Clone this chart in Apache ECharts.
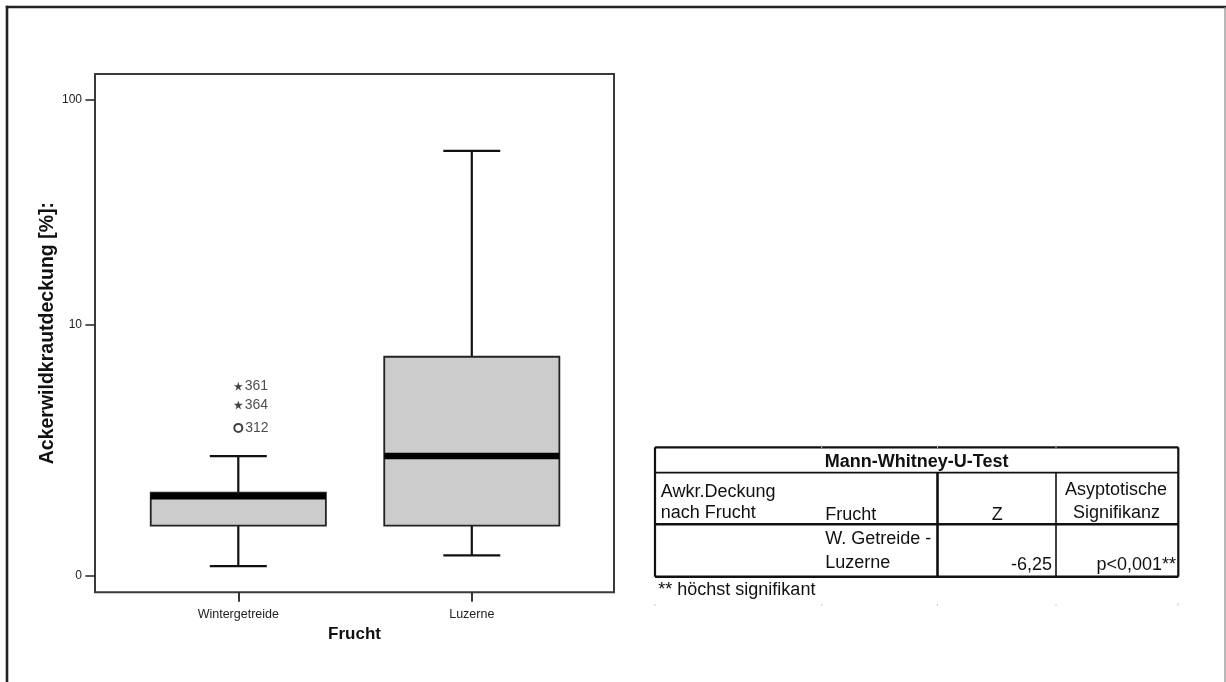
<!DOCTYPE html>
<html>
<head>
<meta charset="utf-8">
<script src="https://cdn.jsdelivr.net/npm/echarts@6/dist/echarts.min.js"></script>
<style>
html,body{margin:0;padding:0;background:#fff;}
#chart{width:1226px;height:682px;}
</style>
</head>
<body>
<div id="chart"></div>
<script>
// ---- data ----
const categories = ['Wintergetreide', 'Luzerne'];
const whiskerLow = [0.09, 0.2];
const quartile1 = [0.58, 0.58];
const medians = [1.08, 2.05];
const quartile3 = [1.15, 7];
const whiskerHigh = [2.05, 60];
const outlierCase = ['361', '364', '312'];
const outlierCategory = [0, 0, 0];
const outlierValue = [5, 4, 3];
const outlierKind = ['extreme', 'extreme', 'outlier'];
const yTickValues = [0, 10, 100];

// table texts
const tableTitle = 'Mann-Whitney-U-Test';
const tableZ = '-6,25';
const tableP = 'p<0,001**';

// ---- scale transform: log10(v + 0.9) ----
const OFFSET = 0.9;
const tf = v => Math.log10(v + OFFSET);
const itf = t => Math.pow(10, t) - OFFSET;

const FONT = "'Liberation Sans', Arial, sans-serif";
const BOX_W = 0.75;   // box width in category units
const CAP_W = 0.244;  // whisker cap width in category units

const boxData = categories.map((c, i) => [i, tf(whiskerLow[i]), tf(quartile1[i]), tf(medians[i]), tf(quartile3[i]), tf(whiskerHigh[i])]);
const starPath = 'path://M50,0 L61,35 L98,35 L68,57 L79,91 L50,70 L21,91 L32,57 L2,35 L39,35 Z';
const outlierData = outlierValue.map((v, i) => ({
  value: [outlierCategory[i], tf(v)],
  name: outlierCase[i],
  symbol: outlierKind[i] === 'extreme' ? starPath : 'circle',
  symbolSize: outlierKind[i] === 'extreme' ? 9 : 8,
  itemStyle: outlierKind[i] === 'extreme'
    ? { color: '#111', borderWidth: 0 }
    : { color: '#fff', borderColor: '#111', borderWidth: 2 }
}));

const chart = echarts.init(document.getElementById('chart'), null, { renderer: 'canvas' });

// table graphic
const TL = 655, TR = 1178.3, TT = 447.3, TB = 576.7;
const rowTitle = 472.7, rowHead = 524.3, colZ = 937.5, colP = 1056;
function hline(x1, x2, y, w, c) { return { type: 'line', shape: { x1, y1: y, x2, y2: y }, style: { stroke: c || '#111', lineWidth: w } }; }
function vline(x, y1, y2, w, c) { return { type: 'line', shape: { x1: x, y1, x2: x, y2 }, style: { stroke: c || '#111', lineWidth: w } }; }
function txt(x, y, s, align, opt) {
  return { type: 'text', x, y, style: Object.assign({ text: s, font: '18px ' + FONT, fill: '#111', align: align || 'left', verticalAlign: 'middle' }, opt || {}) };
}
const tableGraphic = [
  hline(TL, TR, TT, 2.2), hline(TL, TR, rowTitle, 1.8), hline(TL, TR, rowHead, 2.6), hline(TL, TR, TB, 2.6),
  vline(TL, TT, TB, 2.2), vline(TR, TT, TB, 2.2), vline(colZ, rowTitle, TB, 2.6), vline(colP, rowTitle, TB, 1.6),
  txt((TL + TR) / 2, 462, tableTitle, 'center', { font: 'bold 18px ' + FONT }),
  txt(660.7, 492, 'Awkr.Deckung'), txt(660.7, 513, 'nach Frucht'),
  txt(825.3, 515, 'Frucht'), txt(997.3, 515, 'Z', 'center'),
  txt(1116, 490, 'Asyptotische', 'center'), txt(1116.5, 513, 'Signifikanz', 'center'),
  txt(825.3, 539.5, 'W. Getreide -'), txt(825.3, 563.5, 'Luzerne'),
  txt(1052, 565, tableZ, 'right'), txt(1176, 565, tableP, 'right'),
  txt(658.3, 590, '** höchst signifikant'),
  // faint scan marks
  vline(821.7, 445, 448, 1, '#bbb'), vline(937.5, 445, 448, 1, '#bbb'), vline(1056, 445, 448, 1, '#bbb'),
  vline(655, 604, 606, 1, '#ccc'), vline(821.7, 604, 606, 1, '#ccc'), vline(937.5, 604, 606, 1, '#ccc'), vline(1056, 604, 606, 1, '#ccc'), vline(1178, 603, 606, 1, '#ccc')
];
const borderGraphic = [
  hline(5.8, 1226, 7, 2.6, '#222'),
  vline(7, 5.8, 682, 2.6, '#222'),
  vline(1225, 7, 682, 1.2, '#888')
];

const option = {
  backgroundColor: '#fff',
  animation: false,
  textStyle: { fontFamily: FONT },
  grid: { left: 95, top: 74, width: 519, height: 518.3, show: true, borderColor: '#3a3a3a', borderWidth: 2, backgroundColor: 'transparent' },
  xAxis: {
    type: 'value', min: -0.6137, max: 1.609,
    axisLine: { show: false, onZero: false },
    splitLine: { show: false },
    axisTick: { show: true, customValues: [0, 1], length: 9.5, lineStyle: { color: '#222', width: 1.8 } },
    axisLabel: { show: true, customValues: [0, 1], formatter: v => categories[Math.round(v)], fontSize: 12.5, color: '#222', margin: 16, fontFamily: FONT },
    name: 'Frucht', nameLocation: 'middle', nameGap: 32,
    nameTextStyle: { fontSize: 17, fontWeight: 'bold', color: '#111', fontFamily: FONT }
  },
  yAxis: {
    type: 'value', min: -0.1173, max: 2.1159,
    axisLine: { show: false, onZero: false },
    splitLine: { show: false },
    axisTick: { show: true, customValues: yTickValues.map(tf), length: 9.6, lineStyle: { color: '#222', width: 1.5 } },
    axisLabel: { show: true, customValues: yTickValues.map(tf), formatter: v => String(Math.round(itf(v))), fontSize: 12, color: '#222', margin: 13, fontFamily: FONT },
    name: 'Ackerwildkrautdeckung [%]:', nameLocation: 'middle', nameRotate: 90, nameGap: 32,
    nameTextStyle: { fontSize: 19.5, fontWeight: 'bold', color: '#111', fontFamily: FONT }
  },
  series: [
    {
      type: 'custom',
      clip: false,
      data: boxData,
      encode: { x: 0, y: [1, 2, 3, 4, 5] },
      renderItem: function (params, api) {
        const x = api.value(0);
        const cx = api.coord([x, api.value(3)])[0];
        const yMin = api.coord([x, api.value(1)])[1];
        const yQ1 = api.coord([x, api.value(2)])[1];
        const yMed = api.coord([x, api.value(3)])[1];
        const yQ3 = api.coord([x, api.value(4)])[1];
        const yMax = api.coord([x, api.value(5)])[1];
        const bw = api.size([BOX_W, 0])[0];
        const cw = api.size([CAP_W, 0])[0];
        const ls = { stroke: '#111', lineWidth: 2.2 };
        return {
          type: 'group',
          children: [
            { type: 'line', shape: { x1: cx, y1: yQ3, x2: cx, y2: yMax }, style: ls },
            { type: 'line', shape: { x1: cx - cw / 2, y1: yMax, x2: cx + cw / 2, y2: yMax }, style: ls },
            { type: 'line', shape: { x1: cx, y1: yQ1, x2: cx, y2: yMin }, style: ls },
            { type: 'line', shape: { x1: cx - cw / 2, y1: yMin, x2: cx + cw / 2, y2: yMin }, style: ls },
            { type: 'rect', shape: { x: cx - bw / 2, y: yQ3, width: bw, height: yQ1 - yQ3 }, style: { fill: '#cccccc', stroke: '#222', lineWidth: 1.8 } },
            { type: 'rect', shape: { x: cx - bw / 2, y: yMed - 3.3, width: bw, height: 6.6 }, style: { fill: '#000' } }
          ]
        };
      }
    },
    {
      type: 'scatter',
      data: outlierData,
      label: { show: true, position: 'right', distance: 2, formatter: p => p.name, fontSize: 14, color: '#222', fontFamily: FONT },
      z: 5
    }
  ],
  graphic: borderGraphic.concat(tableGraphic)
};
chart.setOption(option);
</script>
</body>
</html>
